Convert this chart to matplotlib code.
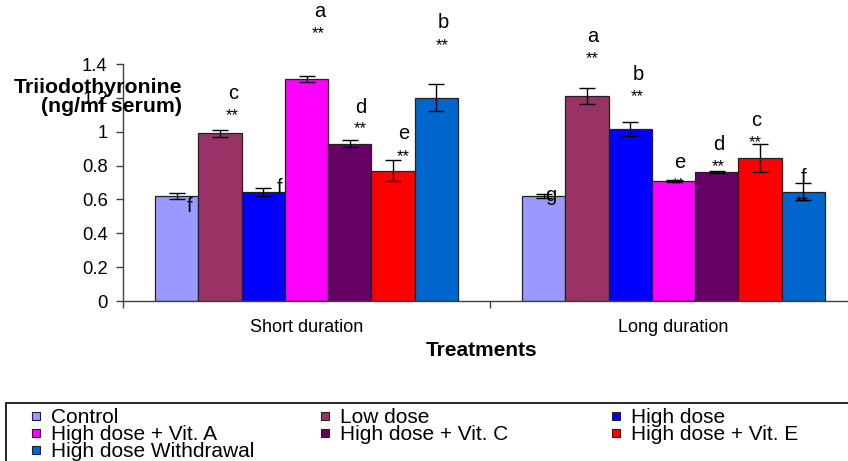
import matplotlib
matplotlib.use("Agg")
import matplotlib.pyplot as plt
from matplotlib.patches import Rectangle
from matplotlib.lines import Line2D
import numpy as np

plt.rcParams['font.family'] = ['Liberation Sans', 'DejaVu Sans']

# data
durations = ['Short duration', 'Long duration']
treatments = ['Control', 'Low dose', 'High dose', 'High dose + Vit. A',
              'High dose + Vit. C', 'High dose + Vit. E', 'High dose Withdrawal']
colors = ['#9999FF', '#993366', '#0000FF', '#FF00FF', '#660066', '#FF0000', '#0066CC']

short_vals = [0.62, 0.99, 0.645, 1.31, 0.93, 0.77, 1.20]
short_err = [0.017, 0.023, 0.022, 0.017, 0.022, 0.06, 0.08]
long_vals = [0.62, 1.21, 1.015, 0.71, 0.762, 0.843, 0.645]
long_err = [0.01, 0.048, 0.04, 0.005, 0.006, 0.083, 0.05]

short_letters = ['f', 'c', 'f', 'a', 'd', 'e', 'b']
short_stars = [False, True, False, True, True, True, True]
long_letters = ['g', 'a', 'b', 'e', 'd', 'c', 'f']
long_stars = [False, True, True, True, True, True, True]

# label offsets from bar top (pixels): dx, letter dy, star dy
short_off = [(13, -16, 0), (13, 34, 13), (16, -1, 0), (13, 62, 41),
             (11, 31, 10), (11, 32, 10), (7, 70, 48)]
long_off = [(7, -5, 0), (6, 54, 33), (8, 49, 28), (6, 13, -8),
            (2, 22, 1), (-4, 32, 11), (0, 9, -15)]

vals = [short_vals, long_vals]
errs = [short_err, long_err]
letters = [short_letters, long_letters]
stars = [short_stars, long_stars]
offs = [short_off, long_off]

W, H = 848, 461
fig = plt.figure(figsize=(W / 100, H / 100), dpi=100)
ax = fig.add_axes([123 / W, 160 / H, (857 - 123) / W, 237 / H])

bw = 0.118
n = len(treatments)
x = np.arange(len(durations))
for i in range(n):
    xs = x + (i - (n - 1) / 2) * bw
    ys = [vals[g][i] for g in range(len(durations))]
    es = [errs[g][i] for g in range(len(durations))]
    ax.bar(xs, ys, bw, color=colors[i], edgecolor='#222222', linewidth=0.9,
           label=treatments[i], zorder=2)
    ax.errorbar(xs, ys, yerr=es, fmt='none', ecolor='black', elinewidth=1,
                capsize=6, capthick=1, zorder=3)
    for g in range(len(durations)):
        dx, dyl, dys = offs[g][i]
        ax.annotate(letters[g][i], (xs[g], ys[g]), xytext=(dx, dyl),
                    textcoords='offset pixels', ha='center', va='baseline',
                    fontsize=14.5, annotation_clip=False, zorder=4)
        if stars[g][i]:
            ax.annotate('**', (xs[g], ys[g]), xytext=(dx - 1, dys),
                        textcoords='offset pixels', ha='center', va='baseline',
                        fontsize=12, annotation_clip=False, zorder=4)

ax.set_xlim(-0.5, 1.5)
ax.set_ylim(0, 1.4)
ax.set_yticks(np.arange(0, 1.41, 0.2))
ax.set_yticklabels([f"{v:g}" for v in np.round(np.arange(0, 1.41, 0.2), 1)])
ax.set_xticks([-0.5, 0.5, 1.5])
ax.set_xticklabels([])
ax.set_xticks(x, minor=True)
ax.set_xticklabels(durations, minor=True)
ax.tick_params(axis='x', which='minor', length=0, pad=13, labelsize=13)
ax.tick_params(axis='x', which='major', length=5, width=1, color='#404040')
ax.tick_params(axis='y', length=5, width=1, color='#404040', pad=6, labelsize=13.3)
for s in ['top', 'right']:
    ax.spines[s].set_visible(False)
for s in ['left', 'bottom']:
    ax.spines[s].set_color('#404040')
    ax.spines[s].set_linewidth(1)

fig.text(482 / W, 1 - 350 / H, 'Treatments', ha='center', va='center',
         fontsize=15, fontweight='bold')
fig.text(182 / W, 1 - 97 / H, 'Triiodothyronine\n(ng/ml serum)', ha='right',
         va='center', multialignment='right', fontsize=15.3, fontweight='bold',
         linespacing=1.0, zorder=10)

# legend in three columns, filled row by row
col_x = [31, 320, 611]
for c in range(3):
    idx = [i for i in range(n) if i % 3 == c]
    handles = [Line2D([], [], linestyle='none', marker='s', markersize=6.3,
                      markerfacecolor=colors[i], markeredgecolor='#222222',
                      markeredgewidth=0.8) for i in idx]
    fig.legend(handles, [treatments[i] for i in idx], loc='upper left',
               bbox_to_anchor=(col_x[c] / W, 1 - 408 / H), frameon=False,
               fontsize=15, handlelength=0.45, handleheight=0.6, handletextpad=0.5,
               labelspacing=-0.1, borderpad=0, borderaxespad=0)
fig.patches.append(Rectangle((6 / W, -0.1), 1.1, 0.1 + (H - 403) / H,
                             transform=fig.transFigure, fill=False,
                             edgecolor='black', linewidth=1.2))

fig.savefig('out.png', dpi=100)
